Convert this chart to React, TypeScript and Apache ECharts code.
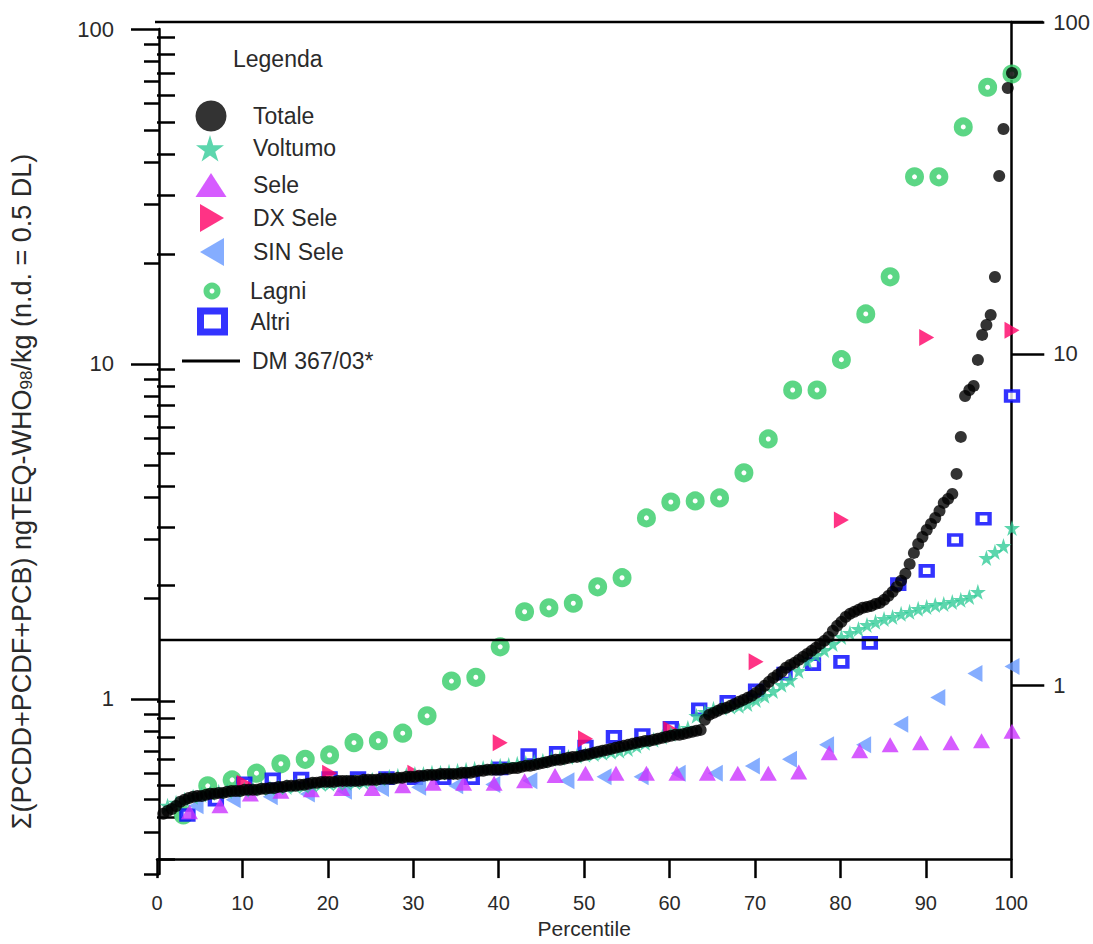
import React, { useEffect, useRef } from "react";
import * as echarts from "echarts";

const FONT = "'Liberation Sans', Arial, Helvetica, sans-serif";
const TEXT = "#2a2a2a";

// ---- data (sorted, plotted at their percentile rank) ----
const totale = [
  0.454, 0.463, 0.469, 0.479, 0.493, 0.5, 0.506, 0.51, 0.513, 0.513,
  0.517, 0.521, 0.521, 0.524, 0.524, 0.528, 0.531, 0.531, 0.531, 0.535,
  0.535, 0.535, 0.535, 0.539, 0.539, 0.542, 0.542, 0.546, 0.546, 0.55,
  0.55, 0.55, 0.554, 0.554, 0.558, 0.562, 0.562, 0.565, 0.565, 0.565,
  0.565, 0.569, 0.569, 0.569, 0.569, 0.569, 0.569, 0.573, 0.573, 0.573,
  0.573, 0.577, 0.577, 0.577, 0.577, 0.581, 0.581, 0.585, 0.585, 0.585,
  0.589, 0.589, 0.593, 0.593, 0.593, 0.597, 0.597, 0.597, 0.597, 0.597,
  0.602, 0.602, 0.602, 0.606, 0.61, 0.61, 0.614, 0.614, 0.614, 0.614,
  0.618, 0.618, 0.622, 0.622, 0.627, 0.631, 0.631, 0.635, 0.64, 0.644,
  0.648, 0.653, 0.658, 0.658, 0.662, 0.667, 0.671, 0.671, 0.676, 0.681,
  0.685, 0.69, 0.695, 0.7, 0.704, 0.709, 0.714, 0.719, 0.724, 0.729,
  0.734, 0.739, 0.744, 0.749, 0.749, 0.755, 0.76, 0.765, 0.771, 0.776,
  0.781, 0.781, 0.786, 0.792, 0.797, 0.803, 0.808, 0.866, 0.896, 0.908,
  0.921, 0.934, 0.94, 0.953, 0.966, 0.98, 0.993, 1.007, 1.021, 1.042,
  1.064, 1.094, 1.124, 1.155, 1.179, 1.204, 1.238, 1.263, 1.281, 1.307,
  1.335, 1.362, 1.391, 1.42, 1.459, 1.49, 1.531, 1.596, 1.652, 1.698,
  1.757, 1.794, 1.819, 1.844, 1.87, 1.882, 1.895, 1.921, 1.934, 1.975,
  2.03, 2.087, 2.16, 2.251, 2.362, 2.529, 2.728, 2.901, 3.044, 3.195,
  3.33, 3.47, 3.641, 3.847, 3.954, 4.093, 4.695, 6.055, 8.025, 8.363,
  8.597, 10.28, 12.21, 13.08, 14.01, 18.18, 36.41, 50.29, 66.67, 73.91,
];

const voltumo = [
  0.48, 0.49, 0.5, 0.51, 0.517, 0.524, 0.528, 0.531, 0.535, 0.535,
  0.539, 0.542, 0.542, 0.546, 0.546, 0.55, 0.55, 0.554, 0.558, 0.558,
  0.562, 0.562, 0.565, 0.565, 0.573, 0.577, 0.585, 0.589, 0.593, 0.597,
  0.597, 0.602, 0.602, 0.606, 0.61, 0.614, 0.618, 0.622, 0.627, 0.631,
  0.635, 0.64, 0.644, 0.648, 0.653, 0.662, 0.667, 0.671, 0.676, 0.681,
  0.685, 0.69, 0.695, 0.7, 0.709, 0.724, 0.739, 0.755, 0.771, 0.786,
  0.803, 0.819, 0.89, 0.915, 0.934, 0.94, 0.947, 0.953, 0.966, 0.993,
  1.021, 1.056, 1.101, 1.139, 1.212, 1.298, 1.353, 1.4, 1.459, 1.531,
  1.574, 1.618, 1.663, 1.698, 1.733, 1.757, 1.794, 1.819, 1.857, 1.882,
  1.908, 1.921, 1.948, 1.975, 2.016, 2.087, 2.636, 2.747, 2.862, 3.239,
];

const sele = [
  0.46, 0.48, 0.52, 0.53, 0.535, 0.54, 0.54, 0.55, 0.56, 0.56,
  0.56, 0.57, 0.59, 0.6, 0.6, 0.6, 0.6, 0.6, 0.6, 0.6,
  0.605, 0.69, 0.7, 0.73, 0.74, 0.74, 0.75, 0.8,
];

const dxSele = [0.56, 0.6, 0.6, 0.74, 0.76, 0.81, 1.29, 3.42, 12.0, 12.6];

const sinSele = [
  0.48, 0.5, 0.51, 0.52, 0.53, 0.54, 0.545, 0.55, 0.555, 0.57,
  0.57, 0.585, 0.585, 0.6, 0.6, 0.63, 0.66, 0.73, 0.73, 0.84,
  1.01, 1.19, 1.25,
];

const lagni = [
  0.45, 0.55, 0.573, 0.6, 0.64, 0.66, 0.68, 0.74, 0.75, 0.79,
  0.89, 1.13, 1.16, 1.43, 1.82, 1.87, 1.93, 2.16, 2.3, 3.47,
  3.87, 3.9, 3.98, 4.73, 5.97, 8.36, 8.36, 10.3, 14.1, 18.2,
  36.2, 36.2, 51, 67, 73.4,
];

const altri = [
  0.45, 0.5, 0.56, 0.575, 0.578, 0.58, 0.58, 0.58, 0.58, 0.58,
  0.58, 0.62, 0.68, 0.69, 0.72, 0.77, 0.78, 0.82, 0.93, 0.98,
  1.06, 1.19, 1.27, 1.29, 1.47, 2.2, 2.41, 2.98, 3.45, 8.02,
];

const dmLimit = 1.5;
const xTicks = { min: 0, max: 100, interval: 10 };
const majorTicks = [1, 10, 100];
const minorTicks = [0.3, 0.4, 0.5, 0.6, 0.7, 0.8, 0.9, 2, 3, 4, 5, 6, 7, 8, 9, 20, 30, 40, 50, 60, 70, 80, 90];
const yRange = { min: 0.3, max: 100 };

const yName = "Σ(PCDD+PCDF+PCB) ngTEQ-WHO{s|98}/kg (n.d. = 0.5 DL)";

// percentile rank of each sorted sample
const toPct = (vals: number[]) => vals.map((v, i) => [((i + 1) * 100) / vals.length, v]);

const STAR = "path://M50,0L61,35L98,35L68,57L79,91L50,70L21,91L32,57L2,35L39,35Z";
const RIGHT_TRI = "path://M0,0L24,14L0,28Z";
const LEFT_TRI = "path://M24,0L0,14L24,28Z";

const C = {
  totale: "#000000",
  voltumo: "#33CC99",
  sele: "#CC33FF",
  dx: "#FF0066",
  sin: "#6699FF",
  lagni: "#33CC66",
  altri: "#0000FF",
};

function legendItem(name: string, cx: number, cy: number, w: number, h: number, textX: number, extra: any = {}) {
  const left = cx - w / 2;
  return {
    data: [name],
    left,
    top: cy - h / 2,
    orient: "vertical",
    padding: 0,
    itemWidth: w,
    itemHeight: h,
    selectedMode: false,
    textStyle: {
      fontSize: 23,
      fontFamily: FONT,
      color: TEXT,
      padding: [0, 0, 0, Math.max(0, textX - (left + w + 5))],
    },
    ...extra,
  };
}

export default function App() {
  const ref = useRef<HTMLDivElement>(null);
  useEffect(() => {
    const chart = echarts.init(ref.current!, null, { renderer: "svg" });
    const axisLine = { show: true, onZero: false, lineStyle: { color: "#000", width: 2.5 } };
    const option: any = {
      animation: false,
      backgroundColor: "#fff",
      title: {
        text: "Legenda",
        left: 233,
        top: 47,
        padding: 0,
        textStyle: { fontSize: 23, fontWeight: "normal", color: TEXT, fontFamily: FONT },
      },
      grid: [
        { left: 157, top: 29, width: 855, height: 845 },
        { left: 157, top: 22, width: 855, height: 844 },
      ],
      xAxis: [
        { gridIndex: 0, type: "value", min: xTicks.min, max: xTicks.max, show: false },
        {
          gridIndex: 1,
          type: "value",
          min: xTicks.min,
          max: xTicks.max,
          interval: xTicks.interval,
          position: "bottom",
          axisLine,
          axisTick: { show: true, length: 19, lineStyle: { color: "#000", width: 2.5 } },
          axisLabel: { margin: 34, fontSize: 20, fontFamily: FONT, color: TEXT },
          splitLine: { show: false },
          name: "Percentile",
          nameLocation: "middle",
          nameGap: 58,
          nameTextStyle: { fontSize: 21, fontFamily: FONT, color: TEXT },
        },
      ],
      yAxis: [
        {
          gridIndex: 0,
          type: "log",
          logBase: 10,
          min: yRange.min,
          max: yRange.max,
          position: "left",
          axisLine,
          axisTick: { show: true, length: 28, customValues: majorTicks, lineStyle: { color: "#000", width: 2.5 } },
          axisLabel: {
            customValues: majorTicks,
            margin: 45,
            fontSize: 22,
            fontFamily: FONT,
            color: TEXT,
            formatter: (v: number) => String(v),
          },
          splitLine: { show: false },
          name: yName,
          nameLocation: "middle",
          nameRotate: 90,
          nameGap: 124,
          nameTextStyle: {
            fontSize: 27,
            fontFamily: FONT,
            color: TEXT,
            padding: [0, 80, 0, 0],
            rich: { s: { fontSize: 17, fontFamily: FONT, color: TEXT, verticalAlign: "bottom" } },
          },
        },
        {
          gridIndex: 0,
          type: "log",
          logBase: 10,
          min: yRange.min,
          max: yRange.max,
          position: "left",
          axisLine: { show: false },
          axisTick: { show: true, length: 15, customValues: minorTicks, lineStyle: { color: "#000", width: 2.5 } },
          axisLabel: { show: false },
          splitLine: { show: false },
        },
        {
          gridIndex: 1,
          type: "log",
          logBase: 10,
          min: yRange.min,
          max: yRange.max,
          position: "right",
          axisLine,
          axisTick: { show: true, length: 33, customValues: majorTicks, lineStyle: { color: "#000", width: 2.5 } },
          axisLabel: {
            customValues: majorTicks,
            margin: 42,
            fontSize: 22,
            fontFamily: FONT,
            color: TEXT,
            formatter: (v: number) => String(v),
          },
          splitLine: { show: false },
        },
        {
          gridIndex: 1,
          type: "log",
          logBase: 10,
          min: yRange.min,
          max: yRange.max,
          position: "right",
          axisLine: { show: false },
          axisTick: { show: true, length: 18, customValues: minorTicks, lineStyle: { color: "#000", width: 2.5 } },
          axisLabel: { show: false },
          splitLine: { show: false },
        },
      ],
      legend: [
        legendItem("Totale", 211, 116, 31, 31, 253),
        legendItem("Voltumo", 210, 149, 28, 28, 253),
        legendItem("Sele", 211, 185, 31, 24, 253),
        legendItem("DX Sele", 212, 218, 24, 28, 253),
        legendItem("SIN Sele", 212, 252, 24, 28, 253),
        legendItem("Lagni", 209, 285, 11, 11, 247, { itemStyle: { borderWidth: 6 } }),
        legendItem("Altri", 209, 318, 24, 21, 247, { itemStyle: { borderWidth: 7 } }),
        legendItem("DM 367/03*", 211, 351, 58, 3, 252, {
          data: [{ name: "DM 367/03*", icon: "rect" }],
          itemStyle: { color: "#000" },
        }),
      ],
      graphic: [
        {
          type: "line",
          shape: { x1: 155, y1: 22, x2: 1043, y2: 22 },
          style: { stroke: "#000", lineWidth: 2.5 },
          silent: true,
        },
      ],
      series: [
        {
          name: "Lagni",
          type: "scatter",
          data: toPct(lagni),
          symbol: "circle",
          symbolSize: 12,
          itemStyle: { color: "#fff", borderColor: C.lagni, borderWidth: 7 },
          clip: false,
        },
        {
          name: "Altri",
          type: "scatter",
          data: toPct(altri),
          symbol: "rect",
          symbolSize: [12, 10],
          itemStyle: { color: "#fff", borderColor: C.altri, borderWidth: 4 },
          clip: false,
        },
        {
          name: "SIN Sele",
          type: "scatter",
          data: toPct(sinSele),
          symbol: LEFT_TRI,
          symbolSize: [15, 17],
          itemStyle: { color: C.sin },
          clip: false,
        },
        {
          name: "DX Sele",
          type: "scatter",
          data: toPct(dxSele),
          symbol: RIGHT_TRI,
          symbolSize: [15, 17],
          itemStyle: { color: C.dx },
          clip: false,
        },
        {
          name: "Sele",
          type: "scatter",
          data: toPct(sele),
          symbol: "triangle",
          symbolSize: [17, 15],
          itemStyle: { color: C.sele },
          clip: false,
        },
        {
          name: "Voltumo",
          type: "scatter",
          data: toPct(voltumo),
          symbol: STAR,
          symbolSize: 16,
          itemStyle: { color: C.voltumo },
          clip: false,
        },
        {
          name: "Totale",
          type: "scatter",
          data: toPct(totale),
          symbol: "circle",
          symbolSize: 12,
          itemStyle: { color: C.totale },
          clip: false,
        },
        {
          name: "DM 367/03*",
          type: "line",
          data: [
            [xTicks.min, dmLimit],
            [xTicks.max, dmLimit],
          ],
          showSymbol: false,
          symbol: "none",
          lineStyle: { color: "#000", width: 2.5 },
          itemStyle: { color: "#000" },
          clip: false,
        },
      ],
    };
    chart.setOption(option);
    return () => chart.dispose();
  }, []);
  return (
    <div
      ref={ref}
      style={{ position: "fixed", left: 0, top: 0, width: 1093, height: 944, background: "#fff" }}
    />
  );
}
